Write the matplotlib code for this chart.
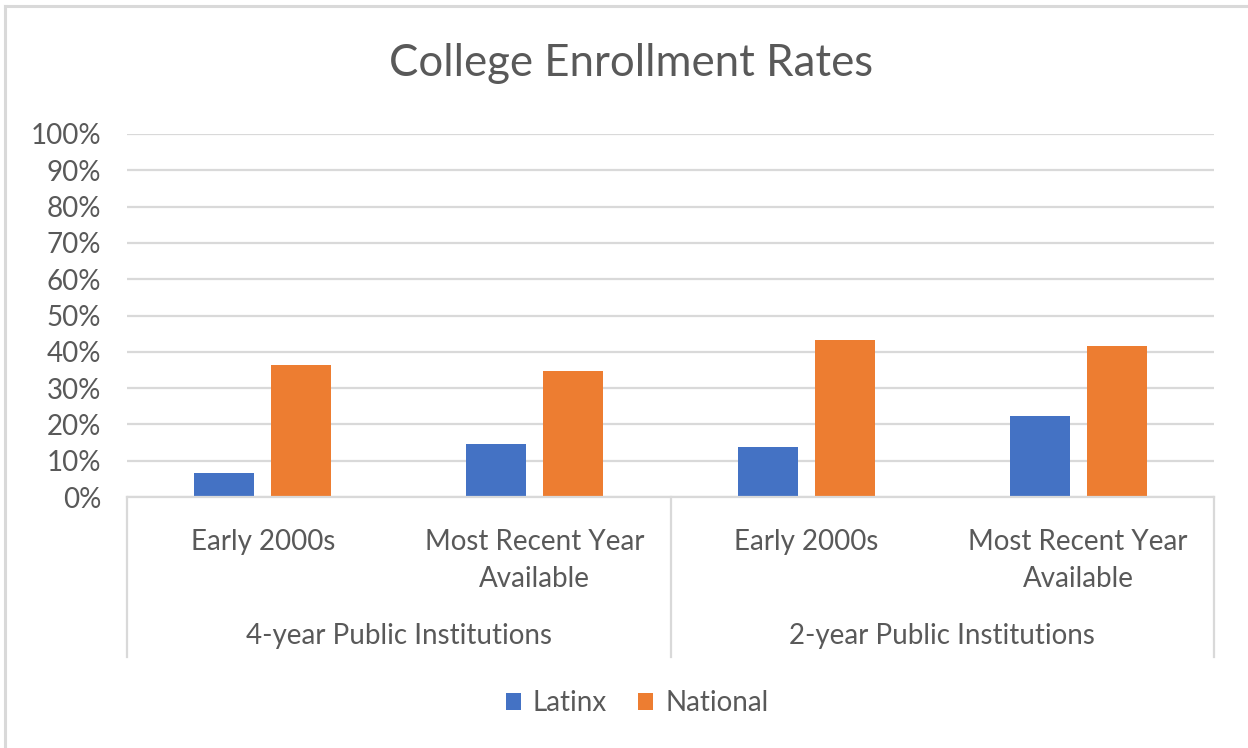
import numpy as np
import matplotlib
matplotlib.use("Agg")
from matplotlib import pyplot as plt
from matplotlib.patches import Patch
from matplotlib.ticker import PercentFormatter

plt.rcParams['font.family'] = ['Lato', 'DejaVu Sans']

# data
categories = ["Early 2000s", "Most Recent Year\nAvailable", "Early 2000s", "Most Recent Year\nAvailable"]
groups = ["4-year Public Institutions", "2-year Public Institutions"]
latinx = [6.5, 14.7, 13.7, 22.4]
national = [36.5, 34.7, 43.3, 41.6]
series_names = ["Latinx", "National"]
yticks = [0, 10, 20, 30, 40, 50, 60, 70, 80, 90, 100]

text_col = "#595959"
grid_col = "#D9D9D9"
blue = "#4472C4"
orange = "#ED7D31"
fs = 20

W, H = 1248, 748
fig = plt.figure(figsize=(W / 100, H / 100), dpi=100)
fig.patch.set_facecolor("white")

# plot area in pixels: x 127..1214, y 134..497
ax = fig.add_axes([127 / W, 1 - 497 / H, (1214 - 127) / W, (497 - 134) / H])

x = np.arange(len(categories))
bw = 0.221
off = 0.1415
ax.bar(x - off, latinx, bw, color=blue, zorder=3)
ax.bar(x + off, national, bw, color=orange, zorder=3)

ax.set_xlim(-0.5, len(categories) - 0.5)
ax.set_ylim(0, 100)
ax.set_yticks(yticks)
ax.yaxis.set_major_formatter(PercentFormatter(decimals=0))
ax.tick_params(axis='y', length=0, labelsize=fs, labelcolor=text_col, pad=18.5)
ax.set_xticks([])
ax.grid(axis='y', color=grid_col, linewidth=1.6, zorder=0)
for s in ["top", "right", "left"]:
    ax.spines[s].set_visible(False)
ax.spines["bottom"].set_color(grid_col)
ax.spines["bottom"].set_linewidth(1.6)
ax.spines["bottom"].set_zorder(4)

# multi-level category axis
tr = ax.get_xaxis_transform()
px = 1 / (497 - 134)  # one pixel in axes fraction
y_low = -(657 - 497) * px
for xb in [-0.5, 1.5, 3.5]:
    ax.plot([xb, xb], [0, y_low], transform=tr, color=grid_col, linewidth=1.6, clip_on=False)

for i, lab in enumerate(categories):
    ax.text(x[i], -(529 - 497) * px, lab, transform=tr, ha='center', va='top',
            fontsize=fs, color=text_col, linespacing=1.52)
for g, lab in enumerate(groups):
    ax.text(2 * g + 0.5, -(636 - 497) * px, lab, transform=tr, ha='center', va='center',
            fontsize=fs, color=text_col)

fig.text(631 / W, 1 - 63 / H, "College Enrollment Rates", ha='center', va='center',
         fontsize=31.5, color=text_col)

handles = [Patch(facecolor=blue), Patch(facecolor=orange)]
fig.legend(handles, series_names, loc='center', bbox_to_anchor=(637 / W, 1 - 703 / H),
           ncol=2, frameon=False, fontsize=fs, labelcolor=text_col,
           handlelength=0.55, handleheight=0.55, handletextpad=0.43, columnspacing=1.1)

# chart area border (top and left edges visible)
fig.add_artist(plt.Line2D([5 / W, 1], [1 - 6 / H, 1 - 6 / H], color=grid_col, linewidth=2.2))
fig.add_artist(plt.Line2D([5 / W, 5 / W], [0, 1 - 6 / H], color=grid_col, linewidth=2.2))

fig.savefig("out.png", dpi=100, facecolor="white")
